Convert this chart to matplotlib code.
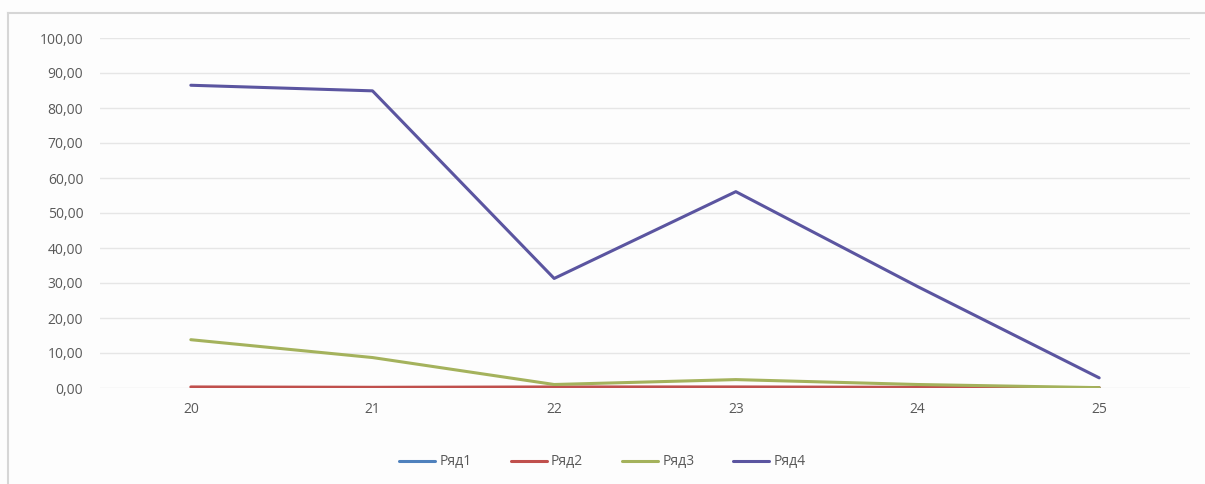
import numpy as np
import matplotlib.pyplot as plt
from matplotlib.lines import Line2D
from matplotlib.ticker import FuncFormatter

# Данные графика
categories = ['20', '21', '22', '23', '24', '25']
series_names = ['Ряд1', 'Ряд2', 'Ряд3', 'Ряд4']
row1 = [0.0, 0.0, 0.0, 0.0, 0.0, 0.0]
row2 = [0.3, 0.2, 0.3, 0.3, 0.2, 0.1]
row3 = [13.8, 8.7, 1.0, 2.4, 1.0, 0.1]
row4 = [86.5, 84.9, 31.3, 56.1, 29.0, 2.9]

colors = ['#4F81BD', '#C0504D', '#A4B25C', '#5B55A0']

plt.rcParams['font.family'] = ['Open Sans', 'DejaVu Sans']

fig = plt.figure(figsize=(12.05, 4.84), dpi=100, facecolor='#FDFDFD')

# Рамка области диаграммы (видны только верхняя и левая стороны)
x0, y1 = 8 / 1205, 1 - 13 / 484
fig.lines.append(Line2D([x0, 1], [y1, y1], transform=fig.transFigure,
                        color='#D6D6D6', linewidth=1.5))
fig.lines.append(Line2D([x0, x0], [0, y1], transform=fig.transFigure,
                        color='#D6D6D6', linewidth=1.5))

ax = fig.add_axes([100 / 1205, 1 - 388 / 484, 1090 / 1205, 350 / 484])
ax.set_facecolor('none')

x = np.arange(len(categories))
for vals, name, col in zip([row1, row2, row3, row4], series_names, colors):
    ax.plot(x, vals, color=col, linewidth=2.2, label=name, solid_capstyle='round')

ax.set_xlim(-0.5, len(categories) - 0.5)
ax.set_ylim(0, 100)
ax.set_yticks(np.arange(0, 101, 10))
ax.yaxis.set_major_formatter(FuncFormatter(lambda v, p: f'{v:.2f}'.replace('.', ',')))
ax.set_xticks(x)
ax.set_xticklabels(categories)

ax.grid(axis='y', color='#E6E6E6', linewidth=1)
ax.set_axisbelow(True)
for s in ax.spines.values():
    s.set_visible(False)
ax.tick_params(axis='both', length=0, colors='#595959', labelsize=10)
ax.tick_params(axis='x', pad=10)
ax.tick_params(axis='y', pad=12)

leg = fig.legend(loc='center', bbox_to_anchor=(0.5, 1 - 462 / 484), ncol=4,
                 frameon=False, fontsize=10, handlelength=2.6, columnspacing=2.8,
                 handletextpad=0.3)
for t in leg.get_texts():
    t.set_color('#595959')

fig.savefig('out.png', dpi=100, facecolor=fig.get_facecolor())
